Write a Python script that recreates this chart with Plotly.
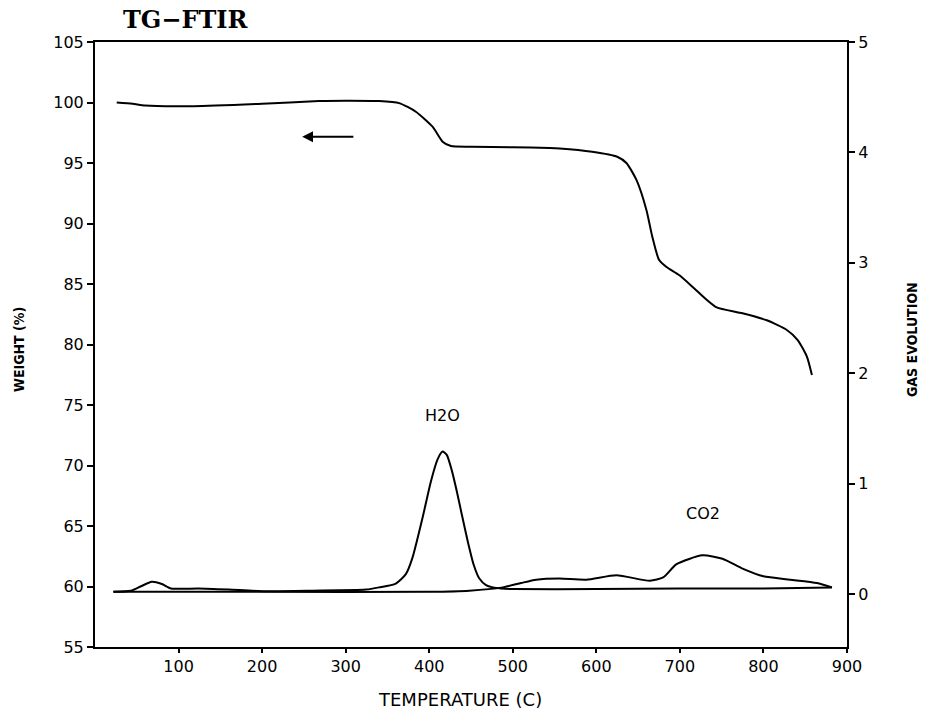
import plotly.graph_objects as go

# Weight (TG) curve, left axis
tg_temp = [26, 45, 60, 118, 200, 268, 300, 340, 364, 384, 404, 416, 426, 450, 500, 544,
           556, 595, 625, 636, 648, 660, 667, 675, 684, 699, 715, 732, 744, 775, 804, 828,
           841, 852, 858]
tg_weight = [100.0, 99.9, 99.75, 99.7, 99.9, 100.12, 100.15, 100.12, 99.95, 99.24, 98.0,
             96.76, 96.4, 96.35, 96.3, 96.24, 96.2, 95.93, 95.52, 95.0, 93.6, 91.1, 88.9,
             87.0, 86.4, 85.74, 84.78, 83.7, 83.07, 82.58, 82.0, 81.2, 80.37, 79.0, 77.48]

# H2O gas evolution profile, right axis
h2o_temp = [22, 43, 55, 68, 80, 91, 124, 160, 204, 260, 324, 340, 360, 372, 380, 392, 402,
            410, 416, 421, 427, 433, 439, 446, 453, 460, 468, 476, 486, 500, 600, 700, 800, 882]
h2o_gas = [0.02, 0.03, 0.07, 0.11, 0.09, 0.05, 0.05, 0.04, 0.025, 0.03, 0.04, 0.06, 0.095,
           0.18, 0.33, 0.69, 1.02, 1.22, 1.29, 1.26, 1.12, 0.93, 0.72, 0.48, 0.27, 0.14,
           0.08, 0.06, 0.05, 0.045, 0.045, 0.05, 0.05, 0.06]

# CO2 gas evolution profile, right axis
co2_temp = [22, 200, 400, 448, 488, 510, 528, 556, 588, 624, 664, 680, 696, 727, 751, 775,
            800, 832, 864, 882]
co2_gas = [0.02, 0.02, 0.02, 0.03, 0.06, 0.1, 0.13, 0.14, 0.13, 0.17, 0.12, 0.15, 0.27,
           0.35, 0.32, 0.23, 0.16, 0.13, 0.10, 0.06]

x_ticks = [100, 200, 300, 400, 500, 600, 700, 800, 900]
y_ticks = [55, 60, 65, 70, 75, 80, 85, 90, 95, 100, 105]
y2_ticks = [0, 1, 2, 3, 4, 5]

tick_font = dict(family="DejaVu Sans", size=16, color="black")
lab_font = dict(family="DejaVu Sans Condensed", size=14, color="black")

fig = go.Figure()
line = dict(color="black", width=2, shape="spline", smoothing=0.6)
fig.add_trace(go.Scatter(x=tg_temp, y=tg_weight, mode="lines", line=line, yaxis="y"))
fig.add_trace(go.Scatter(x=h2o_temp, y=h2o_gas, mode="lines", line=line, yaxis="y2"))
fig.add_trace(go.Scatter(x=co2_temp, y=co2_gas, mode="lines", line=line, yaxis="y2"))

axis_common = dict(ticks="outside", tickwidth=2, tickcolor="black", showline=True,
                   linecolor="black", linewidth=2, showgrid=False, zeroline=False,
                   tickfont=tick_font, automargin=False)

fig.update_layout(
    width=926, height=715,
    margin=dict(l=95, r=79, t=42, b=68),
    paper_bgcolor="white", plot_bgcolor="white",
    showlegend=False,
    xaxis=dict(range=[0, 900], tickvals=x_ticks, ticklen=4, mirror=True, **axis_common),
    yaxis=dict(range=[55, 105], tickvals=y_ticks, ticklen=6, mirror=True, **axis_common),
    yaxis2=dict(range=[-0.48, 5.0], tickvals=y2_ticks, overlaying="y", side="right",
                ticklen=6, **axis_common),
)

# Title and axis titles
fig.add_annotation(text="<b>TG−FTIR</b>", xref="paper", yref="paper", x=(186 - 95) / 752,
                   y=1 + 22 / 605, showarrow=False, xanchor="center", yanchor="middle",
                   font=dict(family="DejaVu Serif", size=24, color="black"))
fig.add_annotation(text="TEMPERATURE (C)", xref="paper", yref="paper",
                   x=(460 - 95) / 752, y=(647 - 699) / 605, showarrow=False,
                   xanchor="center", yanchor="middle",
                   font=dict(family="DejaVu Sans", size=18, color="black"))
fig.add_annotation(text="<b>WEIGHT (%)</b>", xref="paper", yref="paper",
                   x=(19 - 95) / 752, y=(647 - 350) / 605, showarrow=False, textangle=-90,
                   xanchor="center", yanchor="middle", font=lab_font)
fig.add_annotation(text="<b>GAS EVOLUTION</b>", xref="paper", yref="paper",
                   x=(912 - 95) / 752, y=(647 - 340) / 605, showarrow=False, textangle=-90,
                   xanchor="center", yanchor="middle", font=lab_font)

# Arrow and peak labels
fig.add_annotation(x=248, y=97.17, ax=311, ay=97.17, xref="x", yref="y", axref="x", ayref="y",
                   text="", showarrow=True, arrowhead=2, arrowsize=1.2, arrowwidth=1.8,
                   arrowcolor="black")
fig.add_annotation(x=416, y=74.1, xref="x", yref="y", text="H2O", showarrow=False,
                   font=dict(family="DejaVu Sans", size=16, color="black"))
fig.add_annotation(x=728, y=66.07, xref="x", yref="y", text="CO2", showarrow=False,
                   font=dict(family="DejaVu Sans", size=16, color="black"))

fig.write_html("out.html")
